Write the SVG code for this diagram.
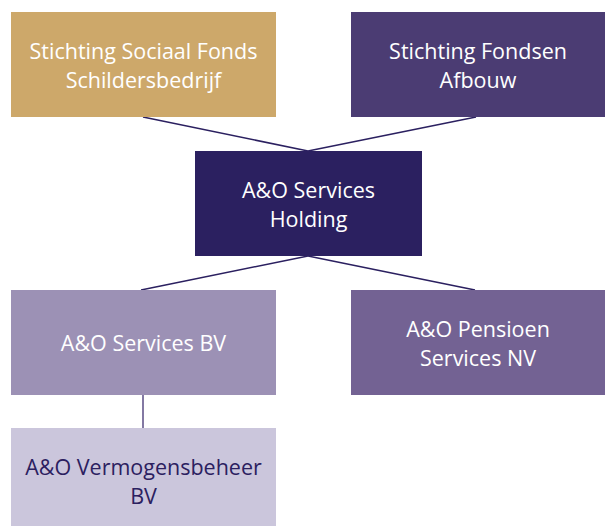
<svg xmlns="http://www.w3.org/2000/svg" width="605" height="526" viewBox="0 0 605 526">
<style>
text{font-family:"Open Sans","DejaVu Sans",sans-serif;font-size:21.5px;text-anchor:middle;fill:#ffffff}
.dark{fill:#2b2060}
.conn line{stroke:#2b2060;stroke-width:1.5}
.conn line.v{stroke:#5a4d85}
</style>
<rect width="605" height="526" fill="#ffffff"/>
<g class="conn" id="connectors">
<line x1="143" y1="117" x2="308" y2="151"/>
<line x1="476" y1="117" x2="308" y2="151"/>
<line x1="308" y1="256" x2="141" y2="290"/>
<line x1="308" y1="256" x2="475" y2="290"/>
<line class="v" x1="143" y1="395" x2="143" y2="428"/>
</g>
<g id="sociaal-fonds">
<rect x="11" y="12" width="265" height="105" fill="#cda86a"/>
<text x="143.5" y="58.5">Stichting Sociaal Fonds</text>
<text x="143.5" y="87.5">Schildersbedrijf</text>
</g>
<g id="fondsen-afbouw">
<rect x="351" y="12" width="254" height="105" fill="#4b3c73"/>
<text x="478" y="58.5">Stichting Fondsen</text>
<text x="478" y="87.5">Afbouw</text>
</g>
<g id="holding">
<rect x="195" y="151" width="227" height="105" fill="#2b2060"/>
<text x="308.5" y="197.5">A&amp;O Services</text>
<text x="308.5" y="226.5">Holding</text>
</g>
<g id="services-bv">
<rect x="11" y="290" width="265" height="105" fill="#9c91b5"/>
<text x="143.5" y="350.5">A&amp;O Services BV</text>
</g>
<g id="pensioen-services">
<rect x="351" y="290" width="254" height="105" fill="#736293"/>
<text x="478" y="336.5">A&amp;O Pensioen</text>
<text x="478" y="365.5">Services NV</text>
</g>
<g id="vermogensbeheer">
<rect x="11" y="428" width="265" height="98" fill="#cbc6dc"/>
<text class="dark" x="143.5" y="474.5">A&amp;O Vermogensbeheer</text>
<text class="dark" x="143.5" y="503.5">BV</text>
</g>
</svg>
